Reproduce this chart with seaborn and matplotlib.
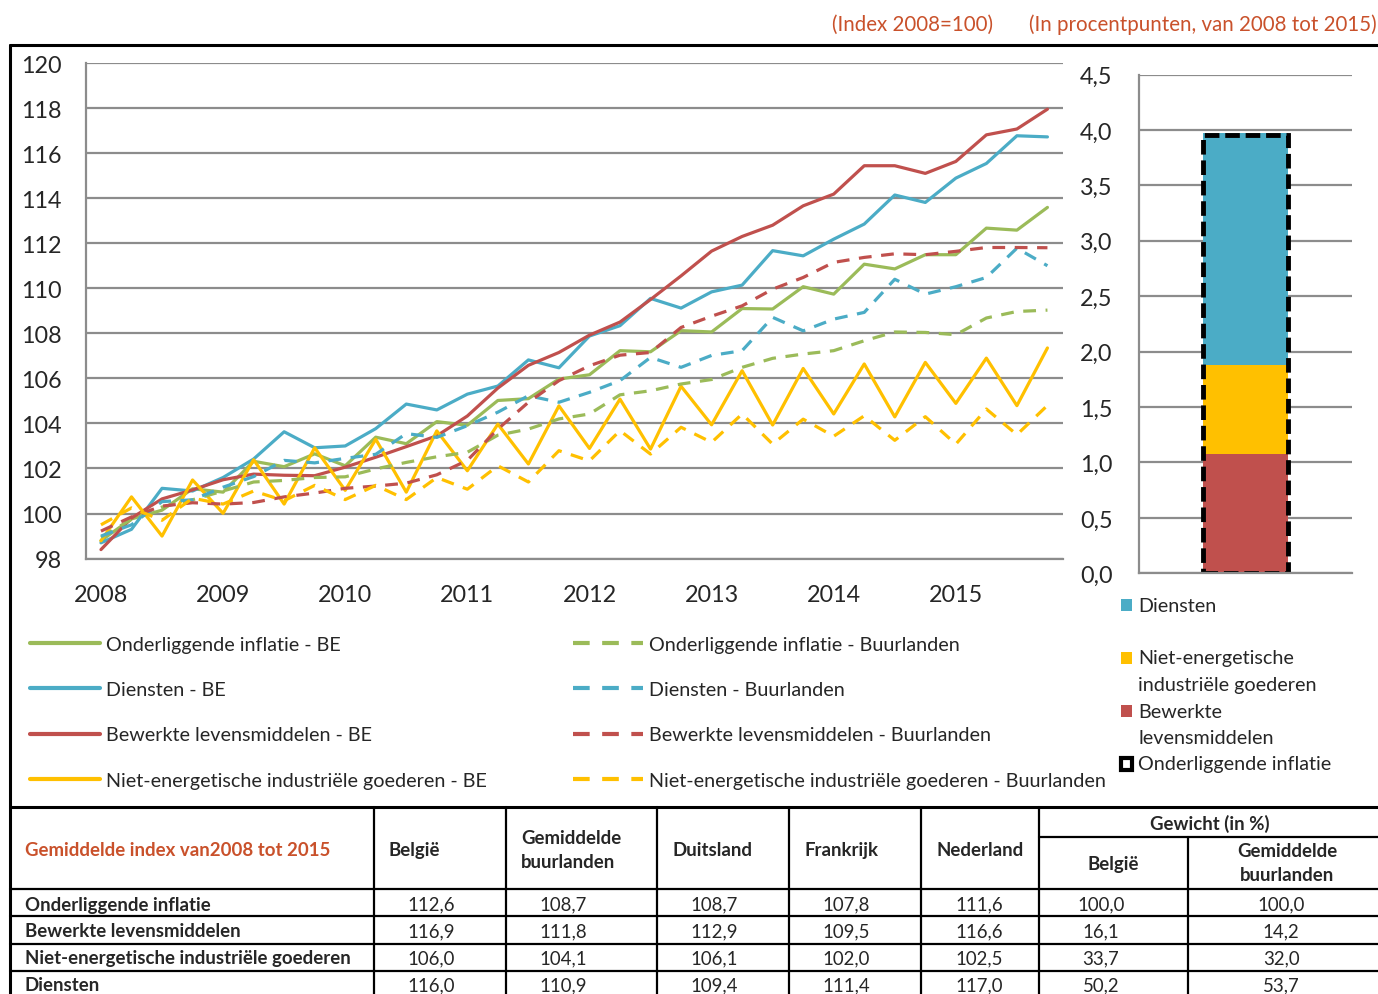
import numpy as np
import pandas as pd
import seaborn as sns
import matplotlib.pyplot as plt
from matplotlib.lines import Line2D
from matplotlib.patches import Rectangle

# quarterly index series 2008Q1 - 2015Q4 (index 2008=100)
quarters = list(range(32))
year_labels = ['2008', '2009', '2010', '2011', '2012', '2013', '2014', '2015']

core_be = [98.8, 99.76, 100.15, 101.1, 100.95, 102.32, 102.08, 102.65, 102.12, 103.39, 103.1, 104.08,
           103.92, 105.02, 105.1, 105.97, 106.16, 107.23, 107.18, 108.12, 108.06, 109.1, 109.08, 110.07,
           109.74, 111.07, 110.86, 111.49, 111.49, 112.67, 112.58, 113.59]
services_be = [98.7, 99.3, 101.12, 101.0, 101.6, 102.42, 103.63, 102.92, 103.0, 103.77, 104.86, 104.6,
               105.3, 105.66, 106.82, 106.47, 107.88, 108.34, 109.55, 109.12, 109.84, 110.14, 111.67, 111.44,
               112.18, 112.85, 114.14, 113.81, 114.89, 115.54, 116.77, 116.72]
food_be = [98.4, 99.8, 100.65, 101.05, 101.5, 101.75, 101.7, 101.68, 102.06, 102.5, 102.97, 103.45,
           104.33, 105.57, 106.58, 107.15, 107.92, 108.5, 109.5, 110.55, 111.65, 112.3, 112.8, 113.66,
           114.18, 115.44, 115.44, 115.1, 115.63, 116.81, 117.07, 117.95]
goods_be = [98.79, 100.74, 99.0, 101.49, 100.01, 102.39, 100.42, 102.92, 101.03, 103.3, 100.95, 103.67,
            101.9, 103.97, 102.2, 104.78, 102.89, 105.08, 102.86, 105.65, 103.94, 106.34, 103.93, 106.44,
            104.42, 106.64, 104.29, 106.71, 104.89, 106.9, 104.79, 107.35]

core_nb = [98.95, 99.74, 100.29, 100.61, 101.0, 101.4, 101.47, 101.6, 101.63, 101.98, 102.27, 102.52,
           102.72, 103.48, 103.75, 104.2, 104.42, 105.27, 105.45, 105.75, 105.95, 106.49, 106.89, 107.08,
           107.23, 107.67, 108.06, 108.04, 107.94, 108.68, 108.97, 109.03]
services_nb = [99.0, 99.5, 100.53, 100.61, 101.17, 101.64, 102.36, 102.25, 102.45, 102.63, 103.55, 103.38,
               103.9, 104.5, 105.23, 104.94, 105.38, 105.9, 106.93, 106.49, 107.02, 107.23, 108.71, 108.11,
               108.63, 108.93, 110.4, 109.74, 110.07, 110.48, 111.78, 111.0]
food_nb = [99.22, 99.85, 100.33, 100.48, 100.42, 100.49, 100.74, 100.91, 101.12, 101.22, 101.35, 101.72,
           102.36, 103.75, 104.94, 105.9, 106.56, 107.03, 107.15, 108.26, 108.76, 109.22, 109.96, 110.48,
           111.15, 111.37, 111.53, 111.49, 111.64, 111.81, 111.81, 111.8]
goods_nb = [99.5, 100.25, 99.7, 100.68, 100.42, 101.0, 100.57, 101.25, 100.62, 101.25, 100.62, 101.6,
            101.08, 102.12, 101.4, 102.79, 102.34, 103.68, 102.64, 103.83, 103.16, 104.42, 103.08, 104.19,
            103.43, 104.34, 103.25, 104.3, 103.08, 104.64, 103.5, 104.8]

# contributions to core inflation difference (percentage points)
contrib_labels = ['Bewerkte levensmiddelen', 'Niet-energetische industriële goederen', 'Diensten']
contrib_values = [1.08, 0.80, 2.09]
core_total = 3.95

# table
table_title = 'Gemiddelde index van2008 tot 2015'
table_rows = ['Onderliggende inflatie', 'Bewerkte levensmiddelen',
              'Niet-energetische industriële goederen', 'Diensten']
col_belgie = [112.6, 116.9, 106.0, 116.0]
col_buur = [108.7, 111.8, 104.1, 110.9]
col_duitsland = [108.7, 112.9, 106.1, 109.4]
col_frankrijk = [107.8, 109.5, 102.0, 111.4]
col_nederland = [111.6, 116.6, 102.5, 117.0]
col_gew_be = [100.0, 16.1, 33.7, 50.2]
col_gew_buur = [100.0, 14.2, 32.0, 53.7]

GREEN, BLUE, RED, YELLOW = '#9BBB59', '#4BACC6', '#C0504D', '#FFC000'
ORANGE = '#C9512B'
GRID = '#8C8C8C'

series = [('Onderliggende inflatie - BE', core_be, GREEN, ''),
          ('Diensten - BE', services_be, BLUE, ''),
          ('Bewerkte levensmiddelen - BE', food_be, RED, ''),
          ('Niet-energetische industriële goederen - BE', goods_be, YELLOW, ''),
          ('Onderliggende inflatie - Buurlanden', core_nb, GREEN, (4, 3)),
          ('Diensten - Buurlanden', services_nb, BLUE, (4, 3)),
          ('Bewerkte levensmiddelen - Buurlanden', food_nb, RED, (4, 3)),
          ('Niet-energetische industriële goederen - Buurlanden', goods_nb, YELLOW, (4, 3))]

df = pd.concat([pd.DataFrame({'kwartaal': quarters, 'index': vals, 'reeks': name})
                for name, vals, _, _ in series], ignore_index=True)
palette = {name: c for name, _, c, _ in series}
dashes = {name: d for name, _, _, d in series}

sns.set_style('white')
plt.rcParams['font.family'] = ['Lato', 'DejaVu Sans']

W, H = 1378, 995
fig = plt.figure(figsize=(W / 100, H / 100), dpi=100)


def fx(px):
    return px / W


def fy(py):
    return 1 - py / H


# ---- line chart
ax = fig.add_axes([fx(85.7), fy(559.6), fx(1062.7 - 85.7), (559.6 - 64) / H])
sns.lineplot(data=df, x='kwartaal', y='index', hue='reeks', style='reeks',
             palette=palette, dashes=dashes, linewidth=2.3, legend=False, ax=ax)
ax.set_xlim(-0.5, 31.5)
ax.set_ylim(98, 120)
ax.set_yticks(np.arange(98, 121, 2))
ax.yaxis.grid(True, color=GRID, linewidth=1.6)
ax.set_axisbelow(True)
ax.set_xticks(range(0, 32, 4))
ax.set_xticklabels(year_labels)
ax.set_xticks(np.arange(-0.5, 32, 1), minor=True)
ax.tick_params(axis='x', which='major', length=0, pad=18, labelsize=16.8)
ax.tick_params(axis='x', which='minor', length=6, width=1.5, color=GRID, direction='out')
ax.tick_params(axis='y', length=6.5, width=1.5, color=GRID, pad=11, labelsize=16.8)
ax.set_xlabel('')
ax.set_ylabel('')
for s in ['top', 'right']:
    ax.spines[s].set_visible(False)
for s in ['left', 'bottom']:
    ax.spines[s].set_color(GRID)
    ax.spines[s].set_linewidth(1.6)

# ---- contribution bar (stacked by overlaying cumulative totals)
axb = fig.add_axes([fx(1139), fy(574.3), fx(1352 - 1139), (574.3 - 75.5) / H])
cum = np.cumsum(contrib_values)
bar_colors = [RED, YELLOW, BLUE]
for k in range(len(cum) - 1, -1, -1):
    sns.barplot(x=[0], y=[cum[k]], color=bar_colors[k], width=0.4, saturation=1,
                linewidth=0, ax=axb, native_scale=True)
sns.barplot(x=[0], y=[core_total], fill=False, edgecolor='black', linestyle=(0, (3, 1.2)),
            linewidth=3.5, width=0.4, ax=axb, native_scale=True)
axb.set_xlim(-0.5, 0.5)
axb.set_ylim(0, 4.5)
axb.set_yticks(np.arange(0, 4.51, 0.5))
axb.set_yticklabels([f'{v:.1f}'.replace('.', ',') for v in np.arange(0, 4.51, 0.5)])
axb.set_xticks([])
axb.yaxis.grid(True, color=GRID, linewidth=1.6)
axb.set_axisbelow(True)
axb.tick_params(axis='y', length=6, width=1.5, color=GRID, pad=13, labelsize=16.8)
axb.set_xlabel('')
axb.set_ylabel('')
for s in ['top', 'right']:
    axb.spines[s].set_visible(False)
for s in ['left', 'bottom']:
    axb.spines[s].set_color(GRID)
    axb.spines[s].set_linewidth(1.6)

# ---- headers
fig.text(fx(993), fy(25), '(Index 2008=100)', color=ORANGE, fontsize=14.8, ha='right', va='center')
fig.text(fx(1377), fy(25), '(In procentpunten, van 2008 tot 2015)', color=ORANGE, fontsize=14.8,
         ha='right', va='center')

# ---- line legends (two columns)
leg_fs = 14.2
solid_h = [Line2D([], [], color=c, lw=3) for _, _, c, d in series[:4]]
dash_h = [Line2D([], [], color=c, lw=3, linestyle=(0, (4, 3))) for _, _, c, d in series[4:]]
common = dict(loc='upper left', frameon=False, fontsize=leg_fs, borderaxespad=0, borderpad=0,
              handlelength=70 / (leg_fs * 100 / 72), handletextpad=0.3, labelspacing=1.43)
fig.legend(solid_h, [s[0] for s in series[:4]], bbox_to_anchor=(fx(30), fy(637)), **common)
fig.legend(dash_h, [s[0] for s in series[4:]], bbox_to_anchor=(fx(573), fy(637)), **common)

# ---- bar legend
bar_leg = [(606, ['Diensten'], BLUE), (659, ['Niet-energetische', 'industriële goederen'], YELLOW),
           (712, ['Bewerkte', 'levensmiddelen'], RED), (765, ['Onderliggende inflatie'], None)]
for y0, lines, col in bar_leg:
    for j, t in enumerate(lines):
        fig.text(fx(1138), fy(y0 + 26.5 * j), t, fontsize=leg_fs, ha='left', va='center')
    if col is None:
        fig.patches.append(Rectangle((fx(1121), fy(y0 + 6)), 11 / W, 12 / H, facecolor='white',
                                     edgecolor='black', linewidth=3, transform=fig.transFigure))
    else:
        fig.patches.append(Rectangle((fx(1121), fy(y0 + 6)), 11 / W, 12 / H, facecolor=col,
                                     edgecolor='none', transform=fig.transFigure))

# ---- frame
def hline(y, x0, x1, lw=2.2):
    fig.add_artist(Line2D([fx(x0), fx(x1)], [fy(y), fy(y)], color='black', lw=lw))


def vline(x, y0, y1, lw=2.2):
    fig.add_artist(Line2D([fx(x), fx(x)], [fy(y0), fy(y1)], color='black', lw=lw))


hline(46, 10, 1378)
vline(10, 46, 995)

# ---- table
hline(808, 10, 1378)
hline(838, 1039, 1378, lw=1.6)
for y in [890, 917, 945, 972]:
    hline(y, 10, 1378, lw=1.6)
for x in [374, 506, 657, 789, 921, 1039]:
    vline(x, 808, 995, lw=1.6)
vline(1188, 838, 995, lw=1.6)

tfs = 13.4
fig.text(fx(25), fy(851), table_title, color=ORANGE, fontsize=tfs, ha='left', va='center',
         fontweight='bold')
headers = [(388, 851, 'België'), (521, 851, 'Gemiddelde\nbuurlanden'), (672, 851, 'Duitsland'),
           (804, 851, 'Frankrijk'), (936, 851, 'Nederland')]
for x, y, t in headers:
    fig.text(fx(x), fy(y), t, fontsize=tfs, fontweight='bold', ha='left', va='center', linespacing=1.5)
fig.text(fx(1210), fy(824), 'Gewicht (in %)', fontsize=tfs, fontweight='bold', ha='center', va='center')
fig.text(fx(1113), fy(865), 'België', fontsize=tfs, fontweight='bold', ha='center', va='center')
fig.text(fx(1287), fy(864), 'Gemiddelde\nbuurlanden', fontsize=tfs, fontweight='bold', ha='center',
         va='center', linespacing=1.5)

row_y = [905, 932, 959, 986]
cols = [(431, col_belgie), (563, col_buur), (714, col_duitsland), (846, col_frankrijk),
        (979, col_nederland), (1101, col_gew_be), (1281, col_gew_buur)]
for r, name in enumerate(table_rows):
    fig.text(fx(25), fy(row_y[r]), name, fontsize=tfs, fontweight='bold', ha='left', va='center')
    for x, vals in cols:
        fig.text(fx(x), fy(row_y[r]), f'{vals[r]:.1f}'.replace('.', ','), fontsize=tfs,
                 ha='center', va='center')

fig.savefig('out.png', dpi=100)
